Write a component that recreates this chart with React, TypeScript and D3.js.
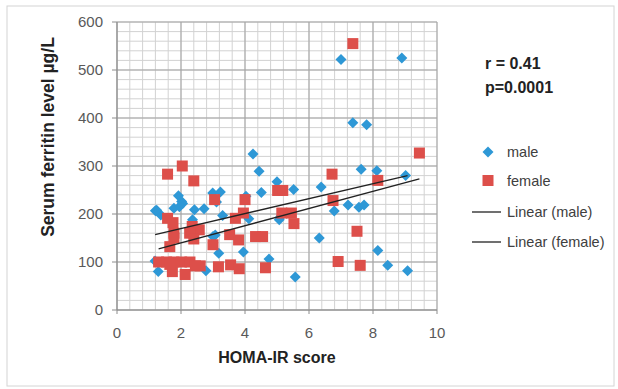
import React from "react";
import * as d3 from "d3";

const maleX = [1.2, 1.37, 1.19, 1.29, 1.78, 1.92, 2.02, 2.05, 1.95, 2.36, 2.42, 2.72, 2.99, 3.23, 3.11, 3.3, 3.07, 3.18, 2.78, 3.95, 4.12, 4.03, 4.25, 4.44, 4.51, 5.0, 5.07, 5.12, 5.52, 4.75, 5.57, 6.38, 6.79, 6.32, 7.0, 8.9, 7.37, 7.8, 7.63, 8.12, 9.02, 7.22, 7.56, 7.72, 8.15, 8.46, 9.08, 1.24, 3.0];
const maleY = [207, 198, 102, 80, 212, 238, 226, 222, 215, 188, 209, 211, 244, 246, 225, 197, 156, 118, 82, 121, 190, 237, 325, 289, 245, 267, 188, 195, 251, 106, 69, 256, 206, 150, 522, 525, 390, 386, 293, 290, 280, 219, 214, 219, 124, 93, 82, 208, 153];

const femaleX = [7.37, 9.45, 2.04, 1.58, 2.4, 6.72, 8.15, 3.05, 4.0, 5.02, 5.18, 6.75, 5.15, 5.45, 5.53, 3.95, 3.7, 1.58, 1.75, 1.78, 1.78, 1.65, 2.35, 2.57, 2.27, 2.4, 3.0, 3.52, 3.8, 4.33, 4.55, 7.5, 6.91, 7.6, 4.64, 3.17, 3.55, 3.82, 2.6, 1.3, 1.55, 1.78, 2.02, 2.28, 1.73, 2.13, 2.45, 1.65];
const femaleY = [555, 327, 300, 283, 269, 283, 270, 230, 230, 249, 249, 228, 202, 202, 180, 202, 191, 191, 182, 160, 150, 132, 174, 167, 160, 148, 136, 157, 146, 153, 153, 164, 101, 93, 88, 90, 94, 86, 92, 100, 100, 100, 100, 100, 80, 74, 92, 95];

// trend lines: [intercept, slope]
const maleTrend = [138.5, 15.6];
const femaleTrend = [104, 17.9];

const xTicks = [0, 2, 4, 6, 8, 10];
const yTicks = [0, 100, 200, 300, 400, 500, 600];
const legendLabels = ["male", "female", "Linear (male)", "Linear (female)"];
const statLines = ["r = 0.41", "p=0.0001"];

const BLUE = "#2e98d6";
const RED = "#dd4f4a";

export default function App() {
  const x = d3.scaleLinear().domain([0, 10]).range([117, 437]);
  const y = d3.scaleLinear().domain([0, 600]).range([310, 22]);
  const minorX = d3.range(0, 10.001, 0.4);
  const minorY = d3.range(0, 600.001, 20);
  const diamond = (cx: number, cy: number, r: number) =>
    `M${cx},${cy - r}L${cx + r},${cy}L${cx},${cy + r}L${cx - r},${cy}Z`;
  const trend = (t: number[], xs: number[]) => {
    const [a, b] = d3.extent(xs) as [number, number];
    return [[a, t[0] + t[1] * a], [b, t[0] + t[1] * b]];
  };
  const line = d3.line<number[]>().x((d) => x(d[0])).y((d) => y(d[1]));
  const font = "'Liberation Sans', Arial, sans-serif";
  return (
    <svg width={618} height={389} style={{ position: "absolute", left: 0, top: 0, background: "#fff" }}>
      <rect x={7} y={6} width={607} height={380} fill="#fff" stroke="#d4d4d4" strokeWidth={1} />
      {minorX.map((v, i) => (
        <line key={"mx" + i} x1={x(v)} x2={x(v)} y1={y(0)} y2={y(600)} stroke="#d2d2d2" strokeWidth={1} />
      ))}
      {minorY.map((v, i) => (
        <line key={"my" + i} x1={x(0)} x2={x(10)} y1={y(v)} y2={y(v)} stroke="#d2d2d2" strokeWidth={1} />
      ))}
      {xTicks.map((v) => (
        <line key={"Mx" + v} x1={x(v)} x2={x(v)} y1={y(0)} y2={y(600)} stroke="#a3a3a3" strokeWidth={1} />
      ))}
      {yTicks.map((v) => (
        <line key={"My" + v} x1={x(0)} x2={x(10)} y1={y(v)} y2={y(v)} stroke="#a3a3a3" strokeWidth={1} />
      ))}
      {xTicks.map((v) => (
        <g key={"xt" + v}>
          <line x1={x(v)} x2={x(v)} y1={y(0)} y2={y(0) + 4} stroke="#8c8c8c" />
          <text x={x(v)} y={338} textAnchor="middle" fontFamily={font} fontSize={15} fill="#595959">{v}</text>
        </g>
      ))}
      {yTicks.map((v) => (
        <g key={"yt" + v}>
          <line x1={x(0) - 5} x2={x(0)} y1={y(v)} y2={y(v)} stroke="#8c8c8c" />
          <text x={103} y={y(v) + 5} textAnchor="end" fontFamily={font} fontSize={15} fill="#595959">{v}</text>
        </g>
      ))}
      <line x1={x(0)} x2={x(0)} y1={y(0)} y2={y(600)} stroke="#8c8c8c" />
      <line x1={x(0)} x2={x(10)} y1={y(0)} y2={y(0)} stroke="#8c8c8c" />
      {maleX.map((v, i) => (
        <path key={"m" + i} d={diamond(x(v), y(maleY[i]), 5.5)} fill={BLUE} />
      ))}
      {femaleX.map((v, i) => (
        <rect key={"f" + i} x={x(v) - 5.5} y={y(femaleY[i]) - 5.5} width={11} height={11} fill={RED} />
      ))}
      <path d={line(trend(maleTrend, maleX)) || ""} stroke="#222" strokeWidth={1.3} fill="none" />
      <path d={line(trend(femaleTrend, femaleX)) || ""} stroke="#222" strokeWidth={1.3} fill="none" />
      <text x={277} y={363} textAnchor="middle" fontFamily={font} fontSize={16} fontWeight="bold" fill="#222">HOMA-IR score</text>
      <text transform="translate(54,137) rotate(-90)" textAnchor="middle" fontFamily={font} fontSize={17.5} fontWeight="bold" fill="#222">Serum ferritin level µg/L</text>
      {statLines.map((s, i) => (
        <text key={s} x={485} y={69 + i * 24} fontFamily={"'Liberation Sans Narrow', 'Liberation Sans', Arial, sans-serif"} fontSize={16} fontWeight="bold" fill="#222">{s}</text>
      ))}
      <path d={diamond(488, 152, 5.5)} fill={BLUE} />
      <rect x={482.5} y={175} width={11} height={11} fill={RED} />
      <line x1={472} x2={501} y1={212} y2={212} stroke="#222" strokeWidth={1.3} />
      <line x1={472} x2={501} y1={242} y2={242} stroke="#222" strokeWidth={1.3} />
      {legendLabels.map((s, i) => (
        <text key={s} x={507} y={[157, 186, 217, 247][i]} fontFamily={font} fontSize={14.5} fill="#404040">{s}</text>
      ))}
    </svg>
  );
}
